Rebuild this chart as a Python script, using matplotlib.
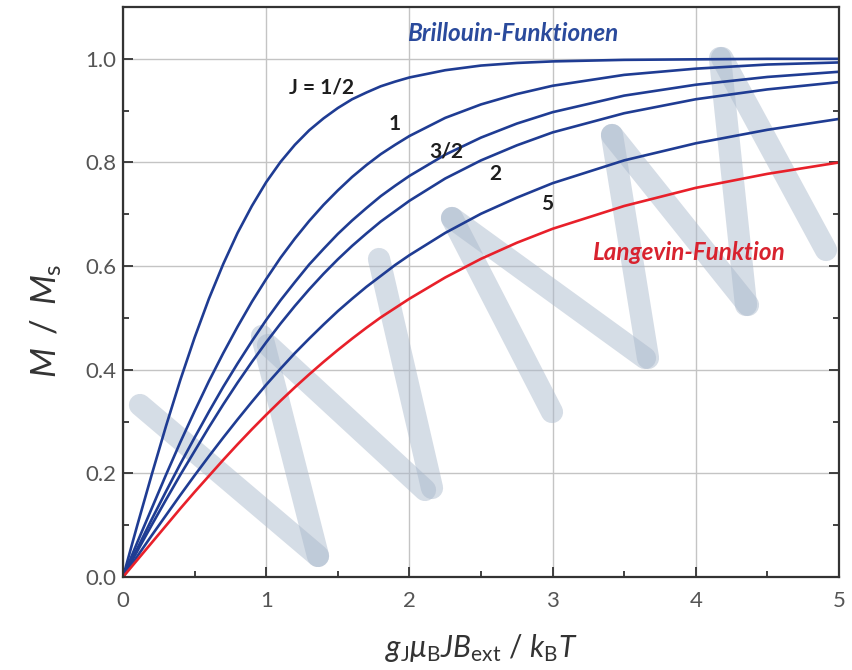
import matplotlib
matplotlib.use("Agg")
import matplotlib.pyplot as plt
from matplotlib.ticker import MultipleLocator

plt.rcParams['font.family'] = ['Lato', 'DejaVu Sans']
plt.rcParams['mathtext.fontset'] = 'custom'
plt.rcParams['mathtext.rm'] = 'Lato'
plt.rcParams['mathtext.it'] = 'Lato:italic'
plt.rcParams['mathtext.fallback'] = 'stixsans'

# values
x_vals = [0, 0.1, 0.2, 0.3, 0.4, 0.5, 0.6, 0.7, 0.8, 0.9, 1.0, 1.1, 1.2, 1.3, 1.4, 1.5,
          1.6, 1.7, 1.8, 1.9, 2.0, 2.25, 2.5, 2.75, 3.0, 3.5, 4.0, 4.5, 5.0]
j_half = [0, 0.100, 0.197, 0.291, 0.380, 0.462, 0.537, 0.604, 0.664, 0.716, 0.762, 0.801, 0.834, 0.862, 0.885,
          0.905, 0.922, 0.935, 0.947, 0.956, 0.964, 0.978, 0.987, 0.992, 0.995, 0.998, 0.999, 1.000, 1.000]
j_1 = [0, 0.067, 0.132, 0.197, 0.260, 0.320, 0.378, 0.432, 0.483, 0.531, 0.575, 0.616, 0.653, 0.687, 0.718,
       0.746, 0.772, 0.795, 0.816, 0.834, 0.851, 0.886, 0.912, 0.932, 0.948, 0.969, 0.981, 0.989, 0.993]
j_3half = [0, 0.055, 0.111, 0.165, 0.218, 0.269, 0.319, 0.367, 0.412, 0.455, 0.496, 0.534, 0.569, 0.603, 0.633,
           0.662, 0.688, 0.712, 0.735, 0.755, 0.774, 0.815, 0.848, 0.875, 0.897, 0.929, 0.950, 0.965, 0.975]
j_2 = [0, 0.050, 0.100, 0.149, 0.197, 0.243, 0.289, 0.333, 0.375, 0.415, 0.453, 0.489, 0.523, 0.555, 0.585,
       0.613, 0.639, 0.663, 0.686, 0.706, 0.726, 0.769, 0.804, 0.833, 0.858, 0.895, 0.922, 0.941, 0.955]
j_5 = [0, 0.040, 0.080, 0.119, 0.158, 0.196, 0.233, 0.269, 0.304, 0.338, 0.371, 0.402, 0.432, 0.460, 0.487,
       0.513, 0.537, 0.560, 0.581, 0.602, 0.621, 0.664, 0.701, 0.732, 0.760, 0.804, 0.837, 0.863, 0.884]
langevin = [0, 0.033, 0.066, 0.099, 0.132, 0.164, 0.195, 0.226, 0.256, 0.285, 0.313, 0.340, 0.366, 0.391, 0.415,
            0.438, 0.460, 0.481, 0.501, 0.519, 0.537, 0.578, 0.614, 0.645, 0.672, 0.716, 0.751, 0.778, 0.800]

brillouin = [j_half, j_1, j_3half, j_2, j_5]
curve_labels = ["J = 1/2", "1", "3/2", "2", "5"]
label_pos = [(1.39, 0.944), (1.90, 0.874), (2.26, 0.822), (2.60, 0.778), (2.96, 0.720)]

BLUE = '#1f3c93'
RED = '#e8202a'

W, H = 853, 670
fig = plt.figure(figsize=(W / 100, H / 100), dpi=100)
ax = fig.add_axes([123 / W, 1 - 577 / H, (839 - 123) / W, (577 - 7) / H])

# watermark strokes (pixel coords of the picture)
watermark = [
    [(140, 405), (318, 556)], [(262, 336), (318, 556)],
    [(268, 345), (425, 490)], [(379, 259), (432, 488)],
    [(452, 218), (552, 412)], [(452, 218), (645, 358)],
    [(612, 135), (648, 358)], [(612, 135), (748, 305)],
    [(720, 58), (746, 305)], [(722, 58), (826, 250)],
]
for (x0, y0), (x1, y1) in watermark:
    ax.plot([x0 / W, x1 / W], [1 - y0 / H, 1 - y1 / H], transform=fig.transFigure,
            color='#a9b8cb', alpha=0.48, lw=16, solid_capstyle='round', zorder=1.5)

for ys in brillouin:
    ax.plot(x_vals, ys, color=BLUE, lw=1.9, zorder=2)
ax.plot(x_vals, langevin, color=RED, lw=1.9, zorder=2)

for txt, (lx, ly) in zip(curve_labels, label_pos):
    ax.text(lx, ly, txt, fontsize=15, fontweight='bold', color='#1e1e1e',
            ha='center', va='center', zorder=3)

ax.text(2.72, 1.048, "Brillouin-Funktionen", fontsize=17.5, fontweight='bold',
        style='italic', color='#2a4a9c', ha='center', va='center', zorder=3)
ax.text(3.95, 0.627, "Langevin-Funktion", fontsize=17.5, fontweight='bold',
        style='italic', color='#d8222e', ha='center', va='center', zorder=3)

ax.set_xlim(0, 5)
ax.set_ylim(0, 1.1)
ax.xaxis.set_major_locator(MultipleLocator(1))
ax.xaxis.set_minor_locator(MultipleLocator(0.5))
ax.yaxis.set_major_locator(MultipleLocator(0.2))
ax.yaxis.set_minor_locator(MultipleLocator(0.1))
ax.yaxis.set_major_formatter(plt.FormatStrFormatter('%.1f'))

ax.set_axisbelow(True)
ax.grid(True, which='major', color='#c4c4c4', lw=1.0)
ax.tick_params(which='both', direction='in', right=True, top=False, color='#333333',
               labelsize=16, labelcolor='#555555', width=1.3)
ax.tick_params(axis='x', which='major', length=7, pad=10)
ax.tick_params(axis='y', which='major', length=7, pad=5)
ax.tick_params(which='minor', length=4)
for sp in ax.spines.values():
    sp.set_color('#333333')
    sp.set_linewidth(1.6)

ax.set_xlabel(r'$g_{\mathrm{J}}\mu_{\mathrm{B}}JB_{\mathrm{ext}}\ /\ k_{\mathrm{B}}T$',
              fontsize=21.5, color='#333333')
ax.set_ylabel(r'$M\ \,/\ \,M_{\mathrm{s}}$', fontsize=25, color='#333333')
ax.xaxis.set_label_coords(0.5, -0.097)
ax.yaxis.set_label_coords(-0.082, 0.45)

fig.savefig('out.png', dpi=100)
